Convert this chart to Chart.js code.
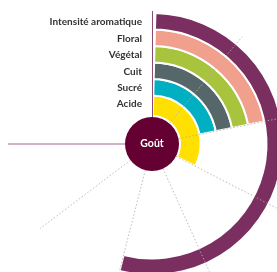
<!DOCTYPE html>
<html lang="fr">
<head>
    <meta charset="UTF-8" />
    <title>Goût</title>
    <style>
        body { margin: 0; background: #fff; }
        #wrap { position: relative; width: 277px; height: 272px; overflow: hidden; }
        #chart-1 { position: absolute; left: -8px; top: -16px; }
    </style>
</head>
<body>
    <div id="wrap">
        <canvas id="chart-1" width="320" height="320"></canvas>
    </div>

    <script src="https://cdn.jsdelivr.net/npm/chart.js"></script>
    <script>
        // Data (outermost ring first)
        const labels = ["Intensité aromatique", "Floral", "Végétal", "Cuit", "Sucré", "Acide"];
        const values = [5, 2, 2, 2, 2, 3];
        const colors = ["#7a2f60", "#f0a08c", "#a8c33c", "#566769", "#00afc1", "#ffe000"];
        const maxValue = 7;
        const centerLabel = "Goût";

        // center circle, labels, guide lines
        const decor = {
            id: "decor",
            afterDatasetsDraw(chart) {
                const ctx = chart.ctx;
                const arc0 = chart.getDatasetMeta(0).data[0];
                const cx = arc0.x, cy = arc0.y;
                const rCircle = 27;
                const circ = chart.options.circumference * Math.PI / 180;
                const start = (chart.options.rotation - 90) * Math.PI / 180;
                ctx.save();

                // dotted radial lines
                ctx.strokeStyle = "rgba(175,175,175,0.85)";
                ctx.lineWidth = 1;
                ctx.setLineDash([1.5, 2]);
                for (let k = 1; k < maxValue; k++) {
                    const a = start + k * circ / maxValue;
                    ctx.beginPath();
                    ctx.moveTo(cx + Math.cos(a) * rCircle, cy + Math.sin(a) * rCircle);
                    ctx.lineTo(cx + Math.cos(a) * 140, cy + Math.sin(a) * 140);
                    ctx.stroke();
                }
                ctx.setLineDash([]);

                // solid lines
                ctx.strokeStyle = "#8c4c72";
                ctx.beginPath();
                ctx.moveTo(cx + 0.5, cy - rCircle);
                ctx.lineTo(cx + 0.5, cy - 133);
                ctx.stroke();
                ctx.strokeStyle = "#c49ab4";
                ctx.lineWidth = 1.5;
                ctx.beginPath();
                ctx.moveTo(cx - rCircle, cy);
                ctx.lineTo(cx - 144, cy);
                ctx.stroke();

                // center circle
                ctx.fillStyle = "#650032";
                ctx.beginPath();
                ctx.arc(cx, cy, rCircle, 0, Math.PI * 2);
                ctx.fill();
                ctx.fillStyle = "#fff";
                ctx.font = "bold 10.5px Lato";
                ctx.textAlign = "center";
                ctx.textBaseline = "middle";
                ctx.fillText(centerLabel, cx, cy);

                // ring labels
                ctx.fillStyle = "#333";
                ctx.font = "bold 10px Lato";
                ctx.textAlign = "right";
                chart.data.datasets.forEach((ds, i) => {
                    const a = chart.getDatasetMeta(i).data[0];
                    const mid = i === labels.length - 1 ? a.outerRadius - 7 : (a.innerRadius + a.outerRadius) / 2;
                    ctx.fillText(ds.label, cx - 10, cy - mid + 1);
                });
                ctx.restore();
            }
        };

        const ctx = document.getElementById("chart-1").getContext("2d");
        const chart = new Chart(ctx, {
            type: "doughnut",
            data: {
                labels: ["valeur", "reste"],
                datasets: labels.map((l, i) => ({
                    label: l,
                    data: [values[i], maxValue - values[i]],
                    backgroundColor: [colors[i], "rgba(0,0,0,0)"],
                    borderColor: "#fff",
                    borderWidth: [2, 0],
                    weight: i === labels.length - 1 ? 1.25 : 1,
                })),
            },
            options: {
                responsive: false,
                animation: false,
                devicePixelRatio: 1,
                circumference: 270,
                rotation: 1.5,
                radius: 131,
                cutout: 34,
                plugins: {
                    legend: { display: false },
                    tooltip: { enabled: false },
                },
            },
            plugins: [decor],
        });
    </script>
</body>
</html>
